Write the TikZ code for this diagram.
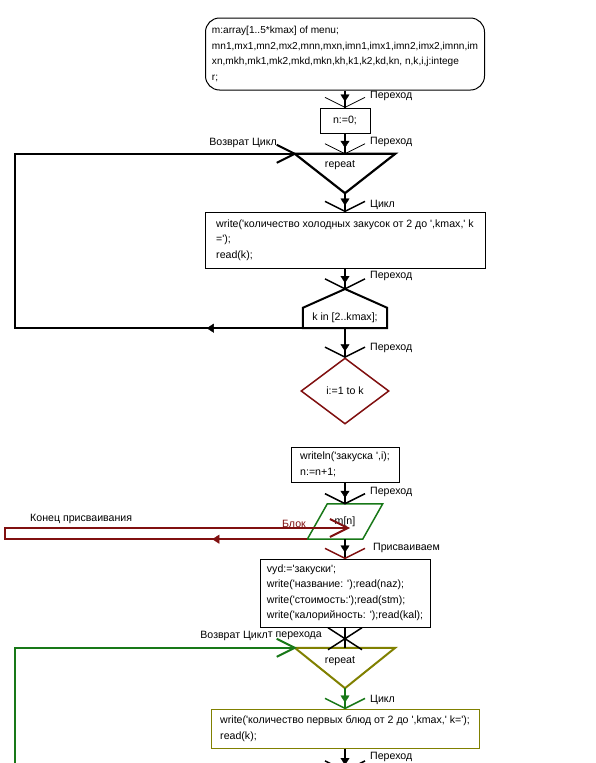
\documentclass[tikz,border=0pt]{standalone}
\usepackage{fontspec}
\setmainfont{Liberation Sans}
\usetikzlibrary{arrows.meta,decorations.markings,shapes.geometric}
\newcommand{\qt}{\textquotesingle}
\definecolor{darkred}{RGB}{128,16,16}
\definecolor{loopgreen}{RGB}{24,120,24}
\definecolor{olivebox}{RGB}{128,128,0}
\tikzset{block/.style={%
        rectangle,
        draw,
        line width=1pt,
        align=left,
        inner sep=0pt,
        anchor=center}}
\tikzset{shapebox/.style={inner sep=0pt,anchor=center}}
\tikzset{lbl/.style={inner sep=0pt,anchor=west}}
\tikzset{vee/.style={}}
\tikzset{link/.style={line width=2.5pt,postaction={decorate},
        decoration={markings,
          mark=at position -6pt with {\arrow{Triangle[length=7pt,width=9pt,line width=0.4pt]}},
          mark=at position -0.1pt with {\draw [line width=1.5pt,vee] (-10pt,-20pt) -- (0pt,0pt) -- (-10pt,20pt);}}}}
\tikzset{back/.style={line width=2.5pt,postaction={decorate},
        decoration={markings,
          mark=at position #1 with {\arrow{Triangle[length=7pt,width=9pt,line width=0.4pt]}},
          mark=at position -0.1pt with {\draw [line width=2pt] (-18pt,-9pt) -- (0pt,0pt) -- (-18pt,9pt);}}}}
\tikzset{xlink/.style={line width=2.5pt,postaction={decorate},
        decoration={markings,
          mark=at position -0.1pt with {\draw [line width=1.5pt] (-20pt,-17pt) -- (2pt,17pt) (-20pt,17pt) -- (2pt,-17pt);}}}}

\begin{document}
\begin{tikzpicture}[x=1pt,y=-1pt,font=\fontsize{10.6}{15.5}\selectfont]
  \useasboundingbox (0,0) rectangle (595,763);
  % first loop
  \node [block, rounded corners=14pt, minimum width=279pt, minimum height=72pt, font=\fontsize{10.1}{15.5}\selectfont] (decl) at (345,54)
    {m:array[1..5*kmax] of menu;\\mn1,mx1,mn2,mx2,mnn,mxn,imn1,imx1,imn2,imx2,imnn,im\\xn,mkh,mk1,mk2,mkd,mkn,kh,k1,k2,kd,kn, n,k,i,j:intege\\r;};
  \node [block, minimum width=50pt, minimum height=25pt] (n0) at (345,120.5) {n:=0;};
  \node [shapebox, minimum width=100pt, minimum height=39pt] (rep1) at (345,173.5) {};
  \node (rep1txt) at (340,165) {repeat};
  \draw [line width=2.2pt] (rep1.north west) -- (rep1.north east) -- (rep1.south) -- cycle;
  \node [block, minimum width=280pt, minimum height=56pt] (wr1) at (345,240)
    {write(\qt количество холодных закусок от 2 до \qt,kmax,\qt{} k\\=\qt);\\read(k);};
  \node [shapebox, minimum width=84pt, minimum height=20pt] (kin) at (345,318) {k in [2..kmax];};
  \coordinate (kinroof) at (345,289);
  \draw [line width=2pt] (kin.south west) -- (kin.north west) -- (kinroof) -- (kin.north east) -- (kin.south east) -- cycle;
  \node [diamond, draw=darkred, line width=1.5pt, minimum width=88pt, minimum height=66pt, inner sep=0pt] (dia) at (345,391) {i:=1 to k};
  \node [block, minimum width=108pt, minimum height=35pt] (wl) at (345,464.5) {writeln(\qt закуска \qt,i);\\n:=n+1;};
  \node [shapebox, minimum width=75pt, minimum height=35pt] (par) at (345,521.5) {m[n]};
  \draw [loopgreen, line width=1.5pt] ([xshift=20pt]par.north west) -- (par.north east) -- ([xshift=-20pt]par.south east) -- (par.south west) -- cycle;
  \node [block, minimum width=170pt, minimum height=68pt] (asg) at (345,593)
    {vyd:=\qt закуски\qt;\\write(\qt название: \qt);read(naz);\\write(\qt стоимость:\qt);read(stm);\\write(\qt калорийность: \qt);read(kal);};
  % second loop
  \node [shapebox, minimum width=100pt, minimum height=40pt] (rep2) at (345,668) {};
  \node (rep2txt) at (340,661) {repeat};
  \draw [olivebox, line width=2pt] (rep2.north west) -- (rep2.north east) -- (rep2.south) -- cycle;
  \node [block, draw=olivebox, minimum width=268pt, minimum height=39pt] (wr2) at (345,728.5)
    {write(\qt количество первых блюд от 2 до \qt,kmax,\qt{} k=\qt);\\read(k);};
  \coordinate (lp1) at (15,240);
  \coordinate (lp2) at (5,533);
  \coordinate (parin) at (348,528);
  \coordinate (lp3) at (15,800);
  \coordinate (botend) at (345,771);
  \draw [link, vee/.style={line width=0.8pt}] (decl) -- (n0);
  \draw [link, vee/.style={line width=0.8pt}] (n0) -- (rep1.north);
  \draw [link] (rep1.south) -- (wr1);
  \draw [link] (wr1) -- (kinroof);
  \draw [link] (kin) -- (dia);
  \draw [link] (wl) -- (par.north);
  \draw [link, vee/.style={darkred}] (par.south) -- (asg);
  \draw [xlink] (asg) -- (rep2.north);
  \draw [link, loopgreen] (rep2.south) -- (wr2);
  \draw [link] (wr2) -- (botend);
  \draw [back=96pt] (kin.south west) -| (lp1) |- (rep1.north west);
  \draw [back=95pt, darkred] (par.south west) -| (lp2) |- (parin);
  \draw [back=20pt, loopgreen] (lp3) |- (rep2.north west);
  % labels
  \node [lbl] (go1) at (370,96) {Переход};
  \node [lbl] (go2) at (370,142) {Переход};
  \node [lbl, anchor=east] (ret1) at (277,143) {Возврат Цикл};
  \node [lbl] (cyc1) at (370,205) {Цикл};
  \node [lbl] (go3) at (370,276) {Переход};
  \node [lbl] (go4) at (370,348) {Переход};
  \node [lbl] (go5) at (370,492) {Переход};
  \node [lbl] (endasg) at (30,519) {Конец присваивания};
  \node [lbl, anchor=east, text=darkred] (blk) at (306,524) {Блок};
  \node [lbl] (asgto) at (373,548) {Присваиваем};
  \node [lbl, anchor=east] (fromgo) at (322,636) {от перехода};
  \node [lbl, anchor=east, fill=white] (ret2) at (268,636) {Возврат Цикл};
  \node [lbl] (cyc2) at (370,700) {Цикл};
  \node [lbl] (go6) at (370,757) {Переход};
\end{tikzpicture}
\end{document}
